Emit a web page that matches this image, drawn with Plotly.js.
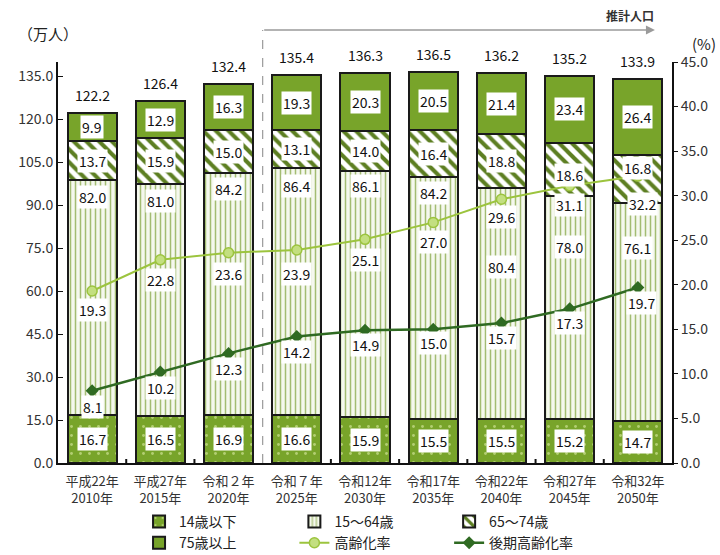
<!DOCTYPE html>
<html><head><meta charset="utf-8">
<script src="https://cdn.plot.ly/plotly-3.0.1.min.js"></script>
<style>body{margin:0;background:#fff}</style>
</head><body><div id="chart" style="width:720px;height:555px"></div>
<script>
const categories = ['平成22年<br>2010年','平成27年<br>2015年','令和２年<br>2020年','令和７年<br>2025年','令和12年<br>2030年','令和17年<br>2035年','令和22年<br>2040年','令和27年<br>2045年','令和32年<br>2050年'];
const age0to14 = [16.7,16.5,16.9,16.6,15.9,15.5,15.5,15.2,14.7];
const age15to64 = [82.0,81.0,84.2,86.4,86.1,84.2,80.4,78.0,76.1];
const age65to74 = [13.7,15.9,15.0,13.1,14.0,16.4,18.8,18.6,16.8];
const age75plus = [9.9,12.9,16.3,19.3,20.3,20.5,21.4,23.4,26.4];
const totals = [122.2,126.4,132.4,135.4,136.3,136.5,136.2,135.2,133.9];
const agingRate = [19.3,22.8,23.6,23.9,25.1,27.0,29.6,31.1,32.2];
const lateAgingRate = [8.1,10.2,12.3,14.2,14.9,15.0,15.7,17.3,19.7];
const seriesNames = ['14歳以下','15～64歳','65～74歳','75歳以上','高齢化率','後期高齢化率'];
const leftTicks = [0,15,30,45,60,75,90,105,120,135];

// label placement offsets (pixels)
const midShift = [-17,-17,-16,-18,-15,-16,-79,-51,-45];
const s65Shift = [0,0,0,0,0,0,0,-6,11];
const rateShift = [-19,-20,-21,-24,-21,-20,-18,-19,-28];
const rateXShift = [0,0,0,0,0,0,0,0,5];
const lateShift = [-16,-16,-16,-16,-15,-14,-15,-14,-16];
const lateXShift = [0,0,0,0,0,0,0,0,4];

const GREEN = '#78a42a';
const FONT = '"Noto Sans CJK JP", "Noto Sans", sans-serif';
const BORDER = {color:'#1a1a1a', width:2};
const x = categories.map((c,i)=>i);
const W = 0.72;

const traces = [
  {type:'bar', name:seriesNames[0], x:x, y:age0to14, width:W, legend:'legend',
   marker:{color:GREEN, line:BORDER, pattern:{shape:'.', fillmode:'replace', bgcolor:GREEN, fgcolor:'#b3cf72', size:9, solidity:0.08}}},
  {type:'bar', name:seriesNames[1], x:x, y:age15to64, width:W, legend:'legend2',
   marker:{color:'#f1f5e6', line:BORDER, pattern:{shape:'|', fillmode:'replace', bgcolor:'#f5f8ee', fgcolor:'#a3bc72', size:5, solidity:0.3}}},
  {type:'bar', name:seriesNames[2], x:x, y:age65to74, width:W, legend:'legend3',
   marker:{color:'#ffffff', line:BORDER, pattern:{shape:'\\', fillmode:'replace', bgcolor:'#ffffff', fgcolor:'#5d7f22', size:9, solidity:0.45}}},
  {type:'bar', name:seriesNames[3], x:x, y:age75plus, width:W, legend:'legend4',
   marker:{color:GREEN, line:BORDER}},
  {type:'scatter', mode:'lines+markers', name:seriesNames[4], x:x, y:agingRate, yaxis:'y2', legend:'legend5',
   line:{color:'#9cc43e', width:2}, marker:{symbol:'circle', size:10, color:'#c3df80', line:{color:'#9cc43e', width:1.5}}},
  {type:'scatter', mode:'lines+markers', name:seriesNames[5], x:x, y:lateAgingRate, yaxis:'y2', legend:'legend6',
   line:{color:'#2f6a22', width:2.5}, marker:{symbol:'diamond', size:10, color:'#2f6a22'}}
];

const ann = [];
const lab = (xv, yv, txt, ys, opts) => Object.assign({x:xv, y:yv, text:txt, showarrow:false, yshift:ys||0,
  xanchor:'center', yanchor:'middle', bgcolor:'#ffffff', borderpad:1, font:{family:FONT, size:14, color:'#111'}}, opts||{});
x.forEach(i=>{
  const b = age0to14[i], m = b + age15to64[i], s = m + age65to74[i], t = s + age75plus[i];
  ann.push(lab(i, b/2, age0to14[i].toFixed(1)));
  ann.push(lab(i, m, age15to64[i].toFixed(1), midShift[i]));
  ann.push(lab(i, (m+s)/2, age65to74[i].toFixed(1), s65Shift[i]));
  ann.push(lab(i, (s+t)/2, age75plus[i].toFixed(1)));
  ann.push(lab(i, t, totals[i].toFixed(1), 18, {bgcolor:'rgba(0,0,0,0)'}));
  ann.push(lab(i, agingRate[i], agingRate[i].toFixed(1), rateShift[i], {yref:'y2', xshift:rateXShift[i]}));
  ann.push(lab(i, lateAgingRate[i], lateAgingRate[i].toFixed(1), lateShift[i], {yref:'y2', xshift:lateXShift[i]}));
});
ann.push({xref:'paper', yref:'paper', x:-0.016, y:1.072, xanchor:'center', yanchor:'middle', text:'（万人）', showarrow:false, font:{family:FONT, size:15, color:'#222'}});
ann.push({xref:'paper', yref:'paper', x:1.052, y:1.047, xanchor:'center', yanchor:'middle', text:'(%)', showarrow:false, font:{family:FONT, size:15, color:'#222'}});
ann.push({x:8.27, y:1.115, xref:'x', yref:'paper', xanchor:'right', yanchor:'middle', text:'<b>推計人口</b>', showarrow:false, font:{family:FONT, size:12, color:'#333'}});
ann.push({x:8.25, y:1.08, xref:'x', yref:'paper', ax:2.5, ay:0, axref:'x', ayref:'pixel', text:'', showarrow:true,
  arrowhead:2, arrowsize:1.2, arrowwidth:1.5, arrowcolor:'#9a9a9a'});

const legBase = {orientation:'v', xanchor:'left', yanchor:'middle', font:{family:FONT, size:14, color:'#222'}, bgcolor:'rgba(0,0,0,0)', borderwidth:0, itemwidth:30};
const legX = [0.132, 0.385, 0.637];
const legY = [-0.147, -0.2];

const layout = {
  width:720, height:555, margin:{l:58, r:48, t:62, b:92, autoexpand:false},
  paper_bgcolor:'#fff', plot_bgcolor:'#fff', barmode:'stack', showlegend:true,
  font:{family:FONT, size:14, color:'#333'},
  xaxis:{range:[-0.5,8.5], tickvals:x, ticktext:categories, showline:true, linecolor:'#111', linewidth:2,
    ticks:'', ticklabelstandoff:5, showgrid:false, zeroline:false, tickfont:{size:13, color:'#333'}},
  yaxis:{range:[0,140], tickvals:leftTicks, tickformat:'.1f', showline:true, linecolor:'#111', linewidth:2,
    ticks:'inside', ticklen:5, tickcolor:'#111', showgrid:false, zeroline:false, tickfont:{size:14, color:'#333'}},
  yaxis2:{overlaying:'y', side:'right', range:[0,45], dtick:5, tickformat:'.1f', showline:true, linecolor:'#111', linewidth:2,
    ticks:'outside', ticklen:4, tickcolor:'#111', showgrid:false, zeroline:false, tickfont:{size:14, color:'#333'}},
  legend: Object.assign({}, legBase, {x:legX[0], y:legY[0]}),
  legend2: Object.assign({}, legBase, {x:legX[1], y:legY[0]}),
  legend3: Object.assign({}, legBase, {x:legX[2], y:legY[0]}),
  legend4: Object.assign({}, legBase, {x:legX[0], y:legY[1]}),
  legend5: Object.assign({}, legBase, {x:legX[1], y:legY[1]}),
  legend6: Object.assign({}, legBase, {x:legX[2], y:legY[1]}),
  shapes:[
    {type:'line', xref:'x', yref:'paper', x0:2.5, x1:2.5, y0:0, y1:1.08, line:{color:'#9a9a9a', width:1.2, dash:'dash'}},
    {type:'line', xref:'x', yref:'paper', x0:0.5, x1:0.5, y0:0, y1:0.01, line:{color:'#111', width:2}},
    {type:'line', xref:'x', yref:'paper', x0:1.5, x1:1.5, y0:0, y1:0.01, line:{color:'#111', width:2}},
    {type:'line', xref:'x', yref:'paper', x0:3.5, x1:3.5, y0:0, y1:0.01, line:{color:'#111', width:2}},
    {type:'line', xref:'x', yref:'paper', x0:4.5, x1:4.5, y0:0, y1:0.01, line:{color:'#111', width:2}},
    {type:'line', xref:'x', yref:'paper', x0:5.5, x1:5.5, y0:0, y1:0.01, line:{color:'#111', width:2}},
    {type:'line', xref:'x', yref:'paper', x0:6.5, x1:6.5, y0:0, y1:0.01, line:{color:'#111', width:2}},
    {type:'line', xref:'x', yref:'paper', x0:7.5, x1:7.5, y0:0, y1:0.01, line:{color:'#111', width:2}}
  ],
  annotations:ann
};
Plotly.newPlot('chart', traces, layout, {displayModeBar:false, staticPlot:true});
</script></body></html>
